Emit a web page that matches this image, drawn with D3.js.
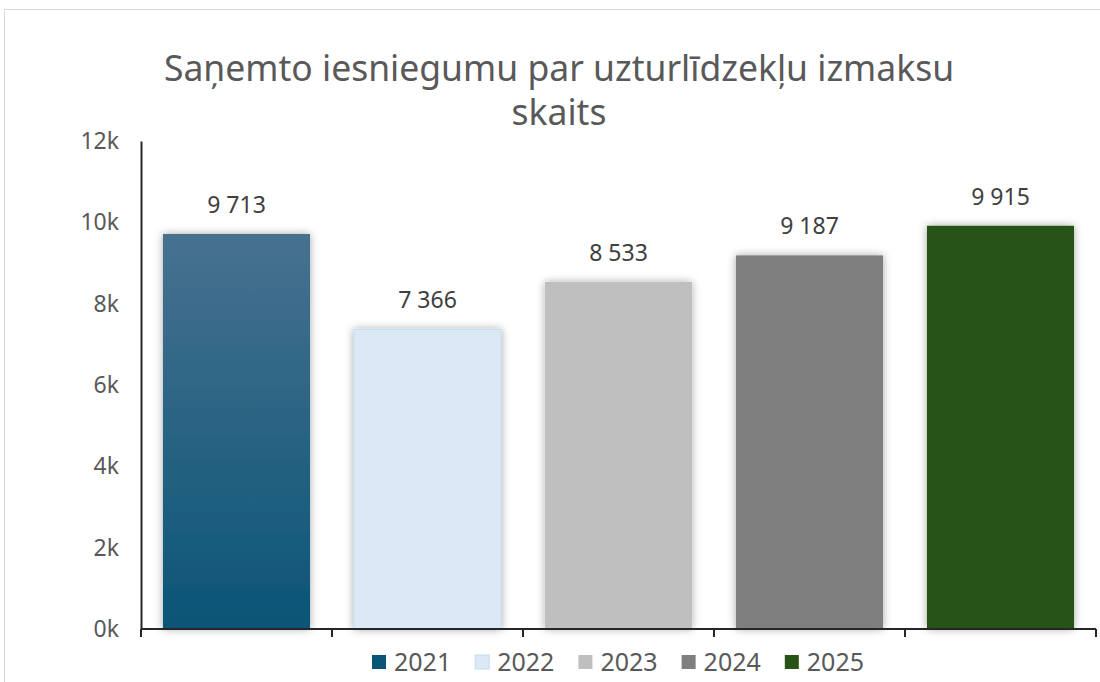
<!DOCTYPE html>
<html>
<head>
<meta charset="utf-8">
<script src="https://cdn.jsdelivr.net/npm/d3@7"></script>
<style>
  body { margin: 0; background: #fff; }
  svg { display: block; font-family: "Noto Sans", "Open Sans", sans-serif; }
</style>
</head>
<body>
<div id="chart"></div>
<script>
// data
var years = ["2021", "2022", "2023", "2024", "2025"];
var counts = [9713, 7366, 8533, 9187, 9915];
var colors = ["url(#grad2021)", "#dbe9f6", "#bfbfbf", "#7f7f7f", "#275317"];
var legendColors = ["#0b5577", "#dbe9f6", "#bfbfbf", "#7f7f7f", "#275317"];
var yTicks = [0, 2000, 4000, 6000, 8000, 10000, 12000];
var titleLines = ["Saņemto iesniegumu par uzturlīdzekļu izmaksu", "skaits"];

var width = 1100, height = 682;
var margin = { top: 141, right: 4, bottom: 53, left: 141 };

var svg = d3.select("#chart").append("svg")
  .attr("width", width)
  .attr("height", height);

var defs = svg.append("defs");
var grad = defs.append("linearGradient")
  .attr("id", "grad2021")
  .attr("x1", 0).attr("y1", 0).attr("x2", 0).attr("y2", 1);
grad.append("stop").attr("offset", "0%").attr("stop-color", "#47718f");
grad.append("stop").attr("offset", "100%").attr("stop-color", "#0b5577");

defs.append("filter")
  .attr("id", "shadow")
  .attr("x", "-20%").attr("y", "-20%").attr("width", "140%").attr("height", "140%")
  .append("feDropShadow")
  .attr("dx", 0).attr("dy", 0)
  .attr("stdDeviation", 4)
  .attr("flood-color", "#000")
  .attr("flood-opacity", 0.35);

// chart frame
svg.append("rect")
  .attr("x", 4.5).attr("y", 9.5)
  .attr("width", 1100).attr("height", 700)
  .attr("fill", "none")
  .attr("stroke", "#d9d9d9");

// title
svg.append("g").selectAll("text")
  .data(titleLines)
  .enter().append("text")
  .attr("x", 559)
  .attr("y", function(d, i) { return 81 + i * 44; })
  .attr("text-anchor", "middle")
  .attr("font-size", 35.5)
  .attr("fill", "#595959")
  .text(function(d) { return d; });

var x = d3.scaleBand()
  .domain(years)
  .range([margin.left, 1096])
  .paddingInner(0.23)
  .paddingOuter(0.115);

var y = d3.scaleLinear()
  .domain([0, 12000])
  .range([629, margin.top]);

// bars
svg.append("g").selectAll("rect")
  .data(counts)
  .enter().append("rect")
  .attr("x", function(d, i) { return x(years[i]); })
  .attr("y", function(d) { return y(d); })
  .attr("width", x.bandwidth())
  .attr("height", function(d) { return y(0) - y(d); })
  .attr("fill", function(d, i) { return colors[i]; })
  .attr("stroke", function(d, i) { return i === 1 ? "#c3ddf0" : "none"; })
  .attr("filter", "url(#shadow)");

// data labels
svg.append("g").selectAll("text")
  .data(counts)
  .enter().append("text")
  .attr("x", function(d, i) { return x(years[i]) + x.bandwidth() / 2; })
  .attr("y", function(d) { return y(d) - 21; })
  .attr("text-anchor", "middle")
  .attr("font-size", 23)
  .attr("fill", "#404040")
  .text(function(d) { return d3.format(",")(d).replace(",", " "); });

// y axis
var yAxis = d3.axisLeft(y)
  .tickValues(yTicks)
  .tickSize(0)
  .tickPadding(22)
  .tickFormat(function(d) { return (d / 1000) + "k"; });

var gy = svg.append("g")
  .attr("transform", "translate(" + margin.left + ",0)")
  .call(yAxis);
gy.select(".domain").attr("stroke", "#262626").attr("stroke-width", 2);
gy.selectAll("text")
  .attr("font-size", 23)
  .attr("fill", "#595959")
  .attr("font-family", "Noto Sans, sans-serif");

// x axis with ticks between categories
var xEdges = years.map(function(d) { return x(d) - x.step() * x.paddingInner() / 2; });
xEdges.push(1096);

var gx = svg.append("g");
gx.append("line")
  .attr("x1", margin.left).attr("x2", 1096)
  .attr("y1", y(0)).attr("y2", y(0))
  .attr("stroke", "#262626").attr("stroke-width", 2);
gx.selectAll(".tick")
  .data(xEdges)
  .enter().append("line")
  .attr("x1", function(d) { return d; }).attr("x2", function(d) { return d; })
  .attr("y1", y(0)).attr("y2", y(0) + 8)
  .attr("stroke", "#262626").attr("stroke-width", 2);

// legend
var legend = svg.append("g");
var lx = 372;
years.forEach(function(yr, i) {
  var item = legend.append("g").attr("transform", "translate(" + lx + ",655)");
  item.append("rect")
    .attr("width", 14).attr("height", 14)
    .attr("fill", legendColors[i])
    .attr("stroke", i === 1 ? "#c3ddf0" : "none");
  var t = item.append("text")
    .attr("x", 22).attr("y", 16)
    .attr("font-size", 25)
    .attr("fill", "#595959")
    .text(yr);
  lx += 22 + t.node().getComputedTextLength() + 24;
});
</script>
</body>
</html>
